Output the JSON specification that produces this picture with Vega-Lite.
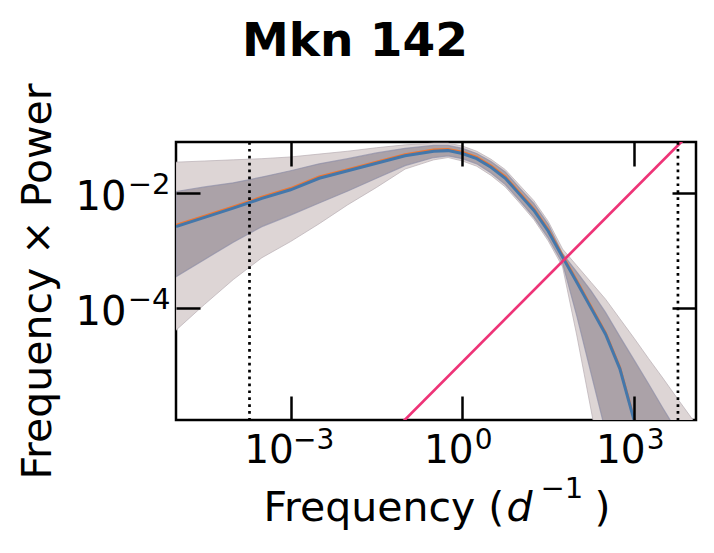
{
  "$schema": "https://vega.github.io/schema/vega-lite/v6.json",
  "width": 520,
  "height": 278,
  "autosize": {"type": "none"},
  "padding": {"left": 176, "top": 142, "right": 18, "bottom": 133},
  "background": "white",
  "title": {"text": "Mkn 142", "fontSize": 47, "fontWeight": "bold", "font": "DejaVu Sans", "color": "black", "anchor": "middle", "frame": "group", "dx": -81, "offset": -20, "baseline": "alphabetic"},
  "config": {"view": {"stroke": "black", "strokeWidth": 2.5}, "font": "DejaVu Sans"},
  "datasets": {
    "psd": [
      {"f": 1e-5, "lo2": 4.169e-5, "lo1": 3.548e-4, "med": 2.630e-3, "orange": 2.79e-3, "hi1": 1.072e-2, "hi2": 3.467e-2},
      {"f": 3.162e-5, "lo2": 1.175e-4, "lo1": 7.079e-4, "med": 3.802e-3, "orange": 4.03e-3, "hi1": 1.288e-2, "hi2": 3.631e-2},
      {"f": 1e-4, "lo2": 3.162e-4, "lo1": 1.413e-3, "med": 5.495e-3, "orange": 5.82e-3, "hi1": 1.514e-2, "hi2": 3.802e-2},
      {"f": 3.162e-4, "lo2": 7.586e-4, "lo1": 2.630e-3, "med": 8.128e-3, "orange": 8.62e-3, "hi1": 1.905e-2, "hi2": 3.981e-2},
      {"f": 1e-3, "lo2": 1.445e-3, "lo1": 4.169e-3, "med": 1.148e-2, "orange": 1.217e-2, "hi1": 2.455e-2, "hi2": 4.266e-2},
      {"f": 3.162e-3, "lo2": 2.951e-3, "lo1": 6.761e-3, "med": 1.820e-2, "orange": 1.93e-2, "hi1": 3.236e-2, "hi2": 4.786e-2},
      {"f": 0.01, "lo2": 6.310e-3, "lo1": 1.096e-2, "med": 2.455e-2, "orange": 2.60e-2, "hi1": 3.981e-2, "hi2": 5.370e-2},
      {"f": 0.03162, "lo2": 1.259e-2, "lo1": 1.820e-2, "med": 3.311e-2, "orange": 3.51e-2, "hi1": 5.012e-2, "hi2": 6.166e-2},
      {"f": 0.1, "lo2": 2.630e-2, "lo1": 3.020e-2, "med": 4.467e-2, "orange": 4.73e-2, "hi1": 6.026e-2, "hi2": 6.918e-2},
      {"f": 0.3162, "lo2": 3.802e-2, "lo1": 4.169e-2, "med": 5.370e-2, "orange": 5.69e-2, "hi1": 6.761e-2, "hi2": 7.413e-2},
      {"f": 0.5623, "lo2": 4.169e-2, "lo1": 4.467e-2, "med": 5.495e-2, "orange": 5.82e-2, "hi1": 6.761e-2, "hi2": 7.413e-2},
      {"f": 1, "lo2": 3.631e-2, "lo1": 3.981e-2, "med": 4.898e-2, "orange": 5.19e-2, "hi1": 6.026e-2, "hi2": 6.607e-2},
      {"f": 1.778, "lo2": 2.951e-2, "lo1": 3.236e-2, "med": 3.981e-2, "orange": 4.22e-2, "hi1": 4.898e-2, "hi2": 5.370e-2},
      {"f": 3.162, "lo2": 2.042e-2, "lo1": 2.239e-2, "med": 2.818e-2, "orange": 2.99e-2, "hi1": 3.548e-2, "hi2": 3.890e-2},
      {"f": 5.623, "lo2": 1.288e-2, "lo1": 1.413e-2, "med": 1.820e-2, "orange": 1.93e-2, "hi1": 2.344e-2, "hi2": 2.570e-2},
      {"f": 10, "lo2": 6.761e-3, "lo1": 7.413e-3, "med": 9.550e-3, "orange": 1.012e-2, "hi1": 1.230e-2, "hi2": 1.380e-2},
      {"f": 17.78, "lo2": 3.467e-3, "lo1": 3.802e-3, "med": 5.012e-3, "orange": 5.31e-3, "hi1": 6.607e-3, "hi2": 7.413e-3},
      {"f": 31.62, "lo2": 1.479e-3, "lo1": 1.660e-3, "med": 2.188e-3, "orange": 2.32e-3, "hi1": 2.884e-3, "hi2": 3.236e-3},
      {"f": 56.23, "lo2": 5.248e-4, "lo1": 6.026e-4, "med": 7.762e-4, "orange": 8.23e-4, "hi1": 8.913e-4, "hi2": 1.072e-3},
      {"f": 100, "lo2": 3.311e-5, "lo1": 7.244e-5, "med": 2.818e-4, "orange": 2.99e-4, "hi1": 4.266e-4, "hi2": 5.495e-4},
      {"f": 177.8, "lo2": 1.660e-6, "lo1": 7.244e-6, "med": 1e-4, "orange": 1.06e-4, "hi1": 1.995e-4, "hi2": 2.818e-4},
      {"f": 316.2, "lo2": 7.943e-8, "lo1": 7.244e-7, "med": 3.548e-5, "orange": 3.76e-5, "hi1": 8.511e-5, "hi2": 1.445e-4},
      {"f": 562.3, "lo2": 3.981e-9, "lo1": 7.943e-8, "med": 8.913e-6, "orange": 9.45e-6, "hi1": 3.236e-5, "hi2": 6.607e-5},
      {"f": 1000, "lo2": 1.995e-10, "lo1": 7.943e-9, "med": 1.122e-6, "orange": 1.19e-6, "hi1": 1.259e-5, "hi2": 3.020e-5},
      {"f": 1778, "lo2": 1e-11, "lo1": 7.943e-10, "med": 1.585e-7, "orange": 1.68e-7, "hi1": 4.898e-6, "hi2": 1.349e-5},
      {"f": 3162, "lo2": 1e-12, "lo1": 1e-10, "med": 2.512e-8, "orange": 2.66e-8, "hi1": 1.862e-6, "hi2": 6.166e-6},
      {"f": 5623, "lo2": 1e-13, "lo1": 1e-11, "med": 3.981e-9, "orange": 4.22e-9, "hi1": 7.244e-7, "hi2": 2.754e-6},
      {"f": 12589, "lo2": 1e-14, "lo1": 1e-12, "med": 3.162e-10, "orange": 3.35e-10, "hi1": 1.995e-7, "hi2": 9.120e-7}
    ],
    "pink": [
      {"f": 0.01, "y": 1.17e-7},
      {"f": 20000, "y": 0.234}
    ],
    "vlines": [
      {"f": 1.92e-4},
      {"f": 5807}
    ]
  },
  "layer": [
    {
      "data": {"name": "psd"},
      "mark": {"type": "area", "clip": true, "color": "#ddd5d5", "stroke": "#b8aeb4", "strokeWidth": 1, "strokeOpacity": 0.7},
      "encoding": {
        "x": {"field": "f", "type": "quantitative", "scale": {"type": "log", "domain": [1e-5, 12000]},
          "axis": {"orient": "bottom", "zindex": 1, "values": [0.001, 1, 1000], "labelExpr": "'10'", "tickSize": -24, "tickWidth": 2.5, "tickColor": "black", "domain": false, "grid": false, "labelFontSize": 39, "labelPadding": 66, "labelBaseline": "alphabetic", "labelAlign": "center", "labelOffset": {"condition": {"test": "datum.value < 0.01", "value": -22}, "value": -14}, "labelColor": "black", "labelFlush": false, "labelOverlap": false, "labelBound": false, "title": "Frequency (", "titleFontSize": 41, "titleFontWeight": "normal", "titleColor": "black", "titleX": 87, "titleY": 100, "titleBaseline": "alphabetic", "titleAlign": "left", "titleAnchor": "start"}},
        "y": {"field": "lo2", "type": "quantitative", "scale": {"type": "log", "domain": [1.15e-6, 0.0776]},
          "axis": {"orient": "left", "zindex": 1, "values": [0.0001, 0.01], "labelExpr": "'10'", "tickSize": -24, "tickWidth": 2.5, "tickColor": "black", "domain": false, "grid": false, "labelFontSize": 40, "labelPadding": 74, "labelAlign": "right", "labelBaseline": "alphabetic", "labelOffset": 16, "labelColor": "black", "labelFlush": false, "labelOverlap": false, "labelBound": false, "title": "Frequency × Power", "titleFontSize": 41, "titleFontWeight": "normal", "titleColor": "black", "titleX": -126, "titleY": 139, "titleAngle": -90, "titleBaseline": "alphabetic", "titleAlign": "center"}},
        "y2": {"field": "hi2"}
      }
    },
    {
      "data": {"name": "psd"},
      "mark": {"type": "area", "clip": true, "color": "#aba2a8", "stroke": "#8e8fa6", "strokeWidth": 1.2, "strokeOpacity": 0.7},
      "encoding": {
        "x": {"field": "f", "type": "quantitative", "scale": {"type": "log", "domain": [1e-5, 12000]},
          "axis": {"orient": "top", "zindex": 1, "values": [0.001, 1, 1000], "labels": false, "title": null, "tickSize": -24, "tickWidth": 2.5, "tickColor": "black", "domain": false, "grid": false}},
        "y": {"field": "lo1", "type": "quantitative", "scale": {"type": "log", "domain": [1.15e-6, 0.0776]},
          "axis": {"orient": "right", "zindex": 1, "values": [0.0001, 0.01], "labels": false, "title": null, "tickSize": -24, "tickWidth": 2.5, "tickColor": "black", "domain": false, "grid": false}},
        "y2": {"field": "hi1"}
      }
    },
    {
      "data": {"name": "psd"},
      "mark": {"type": "line", "clip": true, "color": "#EE7733", "strokeWidth": 2.5},
      "encoding": {
        "x": {"field": "f", "type": "quantitative", "scale": {"type": "log", "domain": [1e-5, 12000]},
          "axis": {"orient": "bottom", "zindex": 1, "values": [0.001, 1, 1000], "labelExpr": "datum.value < 0.01 ? '−3' : datum.value < 10 ? '0' : '3'", "ticks": false, "domain": false, "grid": false, "labelFontSize": 28, "labelPadding": 28, "labelBaseline": "alphabetic", "labelAlign": "left", "labelOffset": {"condition": {"test": "datum.value < 0.01", "value": 2}, "value": 12}, "labelColor": "black", "labelFlush": false, "labelOverlap": false, "labelBound": false, "title": "d", "titleFontSize": 41, "titleFontStyle": "italic", "titleFontWeight": "normal", "titleColor": "black", "titleX": 330, "titleY": 100, "titleBaseline": "alphabetic", "titleAlign": "left", "titleAnchor": "start"}},
        "y": {"field": "orange", "type": "quantitative", "scale": {"type": "log", "domain": [1.15e-6, 0.0776]},
          "axis": {"orient": "left", "zindex": 1, "values": [0.0001, 0.01], "labelExpr": "datum.value < 0.001 ? '−4' : '−2'", "ticks": false, "domain": false, "grid": false, "labelFontSize": 29, "labelPadding": 6, "labelAlign": "right", "labelBaseline": "alphabetic", "labelOffset": 0, "labelColor": "black", "labelFlush": false, "labelOverlap": false, "labelBound": false, "title": null}}
      }
    },
    {
      "data": {"name": "psd"},
      "mark": {"type": "line", "clip": true, "color": "#4477AA", "strokeWidth": 3},
      "encoding": {
        "x": {"field": "f", "type": "quantitative", "scale": {"type": "log", "domain": [1e-5, 12000]},
          "axis": {"orient": "bottom", "labels": false, "ticks": false, "domain": false, "grid": false, "title": "−1", "titleFontSize": 29, "titleFontWeight": "normal", "titleColor": "black", "titleX": 364, "titleY": 77, "titleBaseline": "alphabetic", "titleAlign": "left", "titleAnchor": "start"}},
        "y": {"field": "med", "type": "quantitative", "scale": {"type": "log", "domain": [1.15e-6, 0.0776]}, "axis": null}
      }
    },
    {
      "data": {"name": "pink"},
      "mark": {"type": "line", "clip": true, "color": "#EE3377", "strokeWidth": 2.7},
      "encoding": {
        "x": {"field": "f", "type": "quantitative", "scale": {"type": "log", "domain": [1e-5, 12000]},
          "axis": {"orient": "bottom", "labels": false, "ticks": false, "domain": false, "grid": false, "title": ")", "titleFontSize": 41, "titleFontWeight": "normal", "titleColor": "black", "titleX": 418, "titleY": 100, "titleBaseline": "alphabetic", "titleAlign": "left", "titleAnchor": "start"}},
        "y": {"field": "y", "type": "quantitative", "scale": {"type": "log", "domain": [1.15e-6, 0.0776]}, "axis": null}
      }
    },
    {
      "data": {"name": "vlines"},
      "mark": {"type": "rule", "clip": true, "color": "black", "strokeWidth": 2.7, "strokeDash": [2.7, 4.2]},
      "encoding": {
        "x": {"field": "f", "type": "quantitative", "scale": {"type": "log", "domain": [1e-5, 12000]}, "axis": null}
      }
    }
  ],
  "resolve": {"axis": {"x": "independent", "y": "independent"}}
}
